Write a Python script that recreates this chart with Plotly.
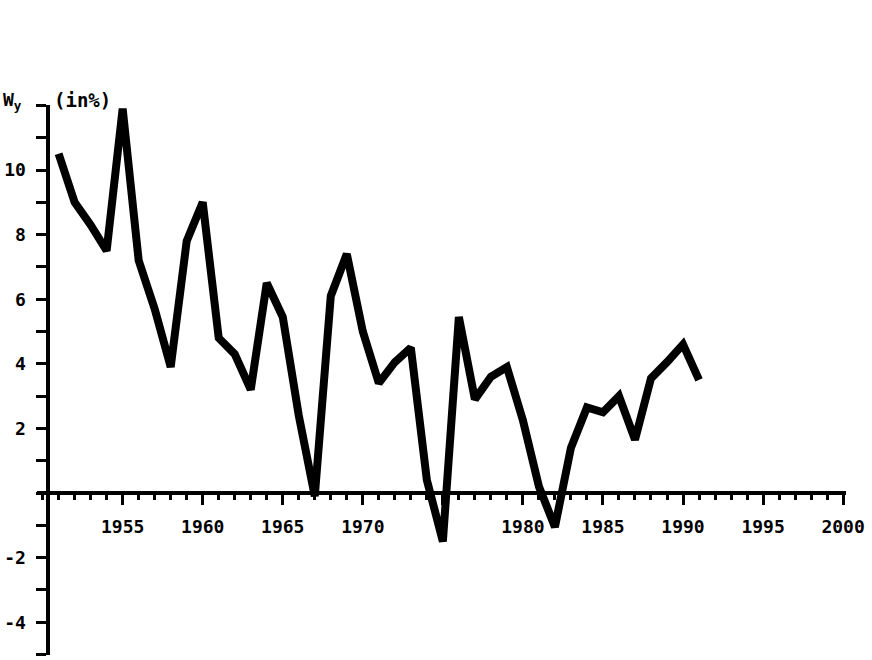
import plotly.graph_objects as go

# ---- data ----
years = list(range(1951, 1992))
growth = [10.5, 9.0, 8.3, 7.5, 11.9, 7.2, 5.7, 3.9, 7.8, 9.0,
          4.8, 4.3, 3.2, 6.5, 5.45, 2.4, -0.1, 6.1, 7.4, 5.0,
          3.4, 4.05, 4.5, 0.4, -1.5, 5.45, 2.9, 3.6, 3.9, 2.25,
          0.2, -1.05, 1.4, 2.65, 2.5, 3.0, 1.65, 3.55, 4.05, 4.6,
          3.5]
x_tick_vals = [1955, 1960, 1965, 1970, 1975, 1980, 1985, 1990, 1995, 2000]
x_tick_text = ["1955", "1960", "1965", "1970", "", "1980", "1985", "1990", "1995", "2000"]
y_tick_vals = [-4, -2, 2, 4, 6, 8, 10]
y_tick_text = ["-4", "-2", "2", "4", "6", "8", "10"]

W, H = 872, 660
FONT = "DejaVu Sans Mono"

fig = go.Figure()
fig.add_trace(go.Scatter(
    x=years, y=growth, mode="lines",
    line=dict(color="black", width=8),
    showlegend=False, hoverinfo="skip",
))

fig.update_layout(
    width=W, height=H,
    margin=dict(l=0, r=0, t=0, b=0, autoexpand=False),
    paper_bgcolor="white", plot_bgcolor="white",
    font=dict(family=FONT, size=18, color="black"),
    xaxis=dict(
        domain=[37 / W, 846 / W],
        range=[1949.65, 2000.18],
        anchor="free", position=(H - 493) / H,
        automargin=False,
        showline=True, linecolor="black", linewidth=4,
        showgrid=False, zeroline=False,
        tickmode="array", tickvals=x_tick_vals, ticktext=x_tick_text,
        ticks="outside", ticklen=10, tickwidth=3, tickcolor="black",
        ticklabelstandoff=6,
        tickfont=dict(family=FONT, size=18, color="black", weight="bold"),
        minor=dict(tickmode="linear", tick0=1950, dtick=1, ticks="outside",
                   ticklen=5, tickwidth=3, tickcolor="black", showgrid=False),
    ),
    yaxis=dict(
        domain=[(H - 654.5) / H, (H - 105.4) / H],
        range=[-5, 12],
        anchor="free", position=47.5 / W,
        automargin=False,
        showline=True, linecolor="black", linewidth=4,
        showgrid=False, zeroline=False,
        tickmode="array", tickvals=y_tick_vals, ticktext=y_tick_text,
        ticks="outside", ticklen=10, tickwidth=3, tickcolor="black",
        ticklabelstandoff=6,
        tickfont=dict(family=FONT, size=18, color="black", weight="bold"),
        minor=dict(tickmode="linear", tick0=0, dtick=1, ticks="outside",
                   ticklen=10, tickwidth=3, tickcolor="black", showgrid=False),
    ),
    annotations=[
        dict(text="W<sub>y</sub>", xref="paper", yref="paper",
             x=1 / W, y=(H - 87) / H, xanchor="left", yanchor="top",
             showarrow=False, font=dict(family=FONT, size=18, color="black", weight="bold")),
        dict(text="(in%)", xref="paper", yref="paper",
             x=52 / W, y=(H - 87) / H, xanchor="left", yanchor="top",
             showarrow=False, font=dict(family=FONT, size=19, color="black", weight="bold")),
    ],
)

fig.write_html("out.html", config={"displayModeBar": False},
               post_script="document.body.style.margin='0';document.body.style.overflow='hidden';")
